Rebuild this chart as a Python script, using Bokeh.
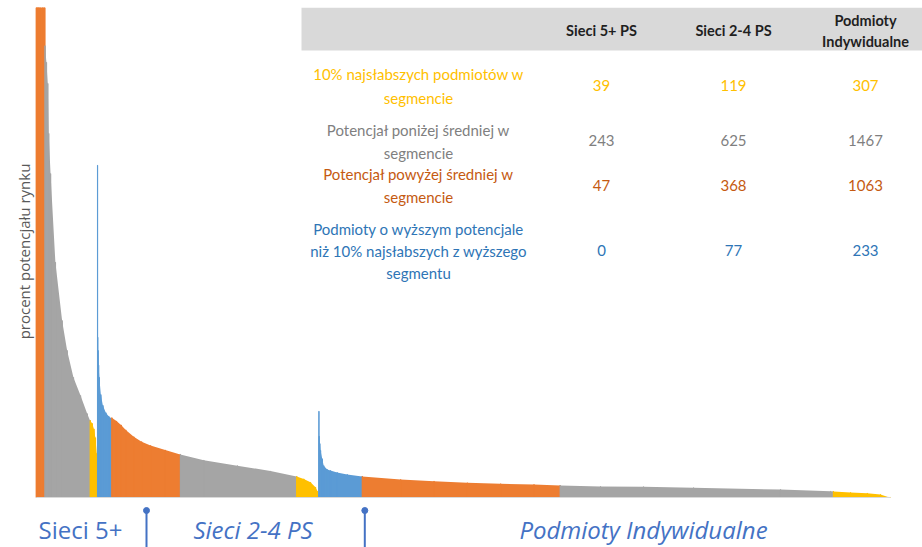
import math
from bokeh.plotting import figure
from bokeh.models import Range1d
from bokeh.core.properties import value
from bokeh.embed import file_html
from bokeh.resources import INLINE

# ---------------- data ----------------
segments = ["Sieci 5+", "Sieci 2-4 PS", "Podmioty Indywidualne"]
header_labels = [["Sieci 5+ PS"], ["Sieci 2-4 PS"], ["Podmioty", "Indywidualne"]]
y_axis_label = "procent potencjału rynku"

# table rows (also number of entities per group and segment)
table_groups = ["yellow", "gray", "orange", "blue"]
row_labels = {
    "yellow": ["10% najsłabszych podmiotów w", "segmencie"],
    "gray": ["Potencjał poniżej średniej w", "segmencie"],
    "orange": ["Potencjał powyżej średniej w", "segmencie"],
    "blue": ["Podmioty o wyższym potencjale", "niż 10% najsłabszych z wyższego", "segmentu"],
}
yellow_counts = [39, 119, 307]
gray_counts = [243, 625, 1467]
orange_counts = [47, 368, 1063]
blue_counts = [0, 77, 233]

# sorted potential of entities: rank inside group -> value
s5_orange_rank = [0, 5, 12, 20, 35, 46]
s5_orange_val = [260, 180, 150, 130, 115, 105]
s5_gray_rank = [0, 8, 15, 20, 30, 56, 92, 119, 153, 191, 227, 242]
s5_gray_val = [92.2, 88.8, 84.5, 74.3, 66.1, 48.0, 36.1, 30.0, 24.5, 20.8, 17.1, 15.7]
s5_yellow_rank = [0, 11, 20, 28, 35, 38]
s5_yellow_val = [15.7, 15.1, 14.0, 12.2, 9.0, 4.5]

s24_blue_rank = [0, 1, 3, 6, 10, 18, 29, 45, 60, 76]
s24_blue_val = [67.8, 32.7, 30.0, 27.0, 24.5, 21.0, 18.8, 17.3, 16.6, 16.1]
s24_orange_rank = [0, 25, 50, 75, 118, 160, 208, 287, 367]
s24_orange_val = [16.3, 15.6, 14.8, 13.8, 12.4, 11.4, 10.6, 9.7, 8.8]
s24_gray_rank = [0, 126, 306, 484, 624]
s24_gray_val = [8.8, 7.6, 6.5, 5.4, 4.3]
s24_yellow_rank = [0, 38, 74, 101, 112, 118]
s24_yellow_val = [4.3, 3.8, 3.1, 2.1, 1.3, 0.5]

pi_blue_rank = [0, 1, 5, 9, 18, 26, 45, 62, 98, 152, 232]
pi_blue_val = [17.6, 12.5, 11.0, 9.6, 7.9, 6.5, 5.7, 5.5, 5.1, 4.7, 4.3]
pi_orange_rank = [0, 206, 385, 564, 743, 922, 1062]
pi_orange_val = [4.3, 3.67, 3.33, 3.0, 2.8, 2.65, 2.45]
pi_gray_rank = [0, 216, 447, 716, 1183, 1452, 1466]
pi_gray_val = [2.45, 2.25, 2.2, 2.0, 1.63, 1.29, 1.25]
pi_yellow_rank = [0, 92, 182, 253, 298, 306]
pi_yellow_val = [1.22, 1.02, 0.88, 0.61, 0.06, 0.02]

# ---------------- styling / layout ----------------
counts = {"yellow": yellow_counts, "gray": gray_counts,
          "orange": orange_counts, "blue": blue_counts}
profiles = {
    (0, "orange"): (s5_orange_rank, s5_orange_val),
    (0, "gray"): (s5_gray_rank, s5_gray_val),
    (0, "yellow"): (s5_yellow_rank, s5_yellow_val),
    (1, "blue"): (s24_blue_rank, s24_blue_val),
    (1, "orange"): (s24_orange_rank, s24_orange_val),
    (1, "gray"): (s24_gray_rank, s24_gray_val),
    (1, "yellow"): (s24_yellow_rank, s24_yellow_val),
    (2, "blue"): (pi_blue_rank, pi_blue_val),
    (2, "orange"): (pi_orange_rank, pi_orange_val),
    (2, "gray"): (pi_gray_rank, pi_gray_val),
    (2, "yellow"): (pi_yellow_rank, pi_yellow_val),
}
bar_colors = {"orange": "#ED7D31", "gray": "#A5A5A5", "yellow": "#FFC000", "blue": "#5B9BD5"}
text_colors = {"orange": "#C55A11", "gray": "#7F7F7F", "yellow": "#FFC000", "blue": "#2E75B6"}
draw_order = ["blue", "orange", "gray", "yellow"]

W, H = 922, 547
TOP = 7  # frame starts 7px below the top edge
total = sum(sum(c) for c in counts.values())
# pixel anchors (page pixels) of the bar area
PX_LEFT, PX_RIGHT = 35.7, 890.0
PX_BASE, PX_PER_UNIT = 497.0, 4.9
sx = (PX_RIGHT - PX_LEFT) / total
x_start = -PX_LEFT / sx
x_end = (W - PX_LEFT) / sx
y_start = -(H - PX_BASE) / PX_PER_UNIT
y_end = (PX_BASE - TOP) / PX_PER_UNIT

p = figure(width=W, height=H, output_backend="svg", toolbar_location=None,
           x_range=Range1d(x_start, x_end), y_range=Range1d(y_start, y_end),
           x_axis_type=None, y_axis_type=None, min_border=0, min_border_top=TOP,
           outline_line_color=None, background_fill_color="white")
p.extra_x_ranges = {"px": Range1d(0, W)}
p.extra_y_ranges = {"px": Range1d(H, TOP)}

# bars
offset = 0
for si in range(len(segments)):
    for g in draw_order:
        n = counts[g][si]
        if n == 0:
            continue
        rank, vals = profiles[(si, g)]
        xs = [offset + r for r in rank] + [offset + n]
        ys = list(vals) + [vals[-1]]
        col = bar_colors[g]
        p.varea(x=xs, y1=0, y2=ys, fill_color=col)
        p.vbar(x=[offset + r + 0.5 for r in rank], width=1, top=vals, bottom=0,
               fill_color=col, line_color=col, line_width=1)
        offset += n
p.segment(x0=[0], y0=[0], x1=[total], y1=[0], line_color="#D9D9D9", line_width=1)

# table
PX = dict(x_range_name="px", y_range_name="px")
p.quad(left=[301], right=[W], top=[TOP], bottom=[50], fill_color="#D9D9D9",
       line_color=None, **PX)
col_x = [601, 733, 865]
hx, hy, ht = [], [], []
for cx, lines in zip(col_x, header_labels):
    ys = [30] if len(lines) == 1 else [20, 41]
    for yy, t in zip(ys, lines):
        hx.append(cx); hy.append(yy); ht.append(t)
p.text(x=hx, y=hy, text=ht, text_font=value("Lato"), text_font_size="14.5px",
       text_font_style="bold", text_color="#1F1F1F", text_align="center",
       text_baseline="middle", **PX)

row_line_y = {"yellow": [73, 97], "gray": [129, 152], "orange": [173, 196],
              "blue": [228, 250, 272]}
row_num_y = {"yellow": 85, "gray": 140, "orange": 185, "blue": 250}
for g in table_groups:
    lines = row_labels[g]
    p.text(x=[418] * len(lines), y=row_line_y[g], text=lines,
           text_font=value("Lato"), text_font_size="15px", text_color=text_colors[g],
           text_align="center", text_baseline="middle", **PX)
    p.text(x=col_x, y=[row_num_y[g]] * 3, text=[str(v) for v in counts[g]],
           text_font=value("Lato"), text_font_size="15px", text_color=text_colors[g],
           text_align="center", text_baseline="middle", **PX)

# y axis title
p.text(x=[23], y=[251], text=[y_axis_label], angle=math.pi / 2,
       text_font=value("Open Sans"), text_font_size="15px", text_color="#595959",
       text_align="center", text_baseline="middle", **PX)

# segment captions and separators
cap_x = [80, 252.5, 643]
cap_style = ["normal", "italic", "italic"]
for cx, t, st in zip(cap_x, segments, cap_style):
    p.text(x=[cx], y=[529], text=[t], text_font=value("Open Sans"),
           text_font_size="24px", text_font_style=st, text_color="#4472C4",
           text_align="center", text_baseline="middle", **PX)
sep_x = [146, 364.3]
p.segment(x0=sep_x, y0=[510] * 2, x1=sep_x, y1=[H] * 2, line_color="#4472C4",
          line_width=2, **PX)
p.scatter(x=sep_x, y=[510] * 2, size=6, marker="circle", fill_color="#4472C4",
          line_color="#4472C4", **PX)

open("out.html", "w").write(file_html(p, INLINE))
